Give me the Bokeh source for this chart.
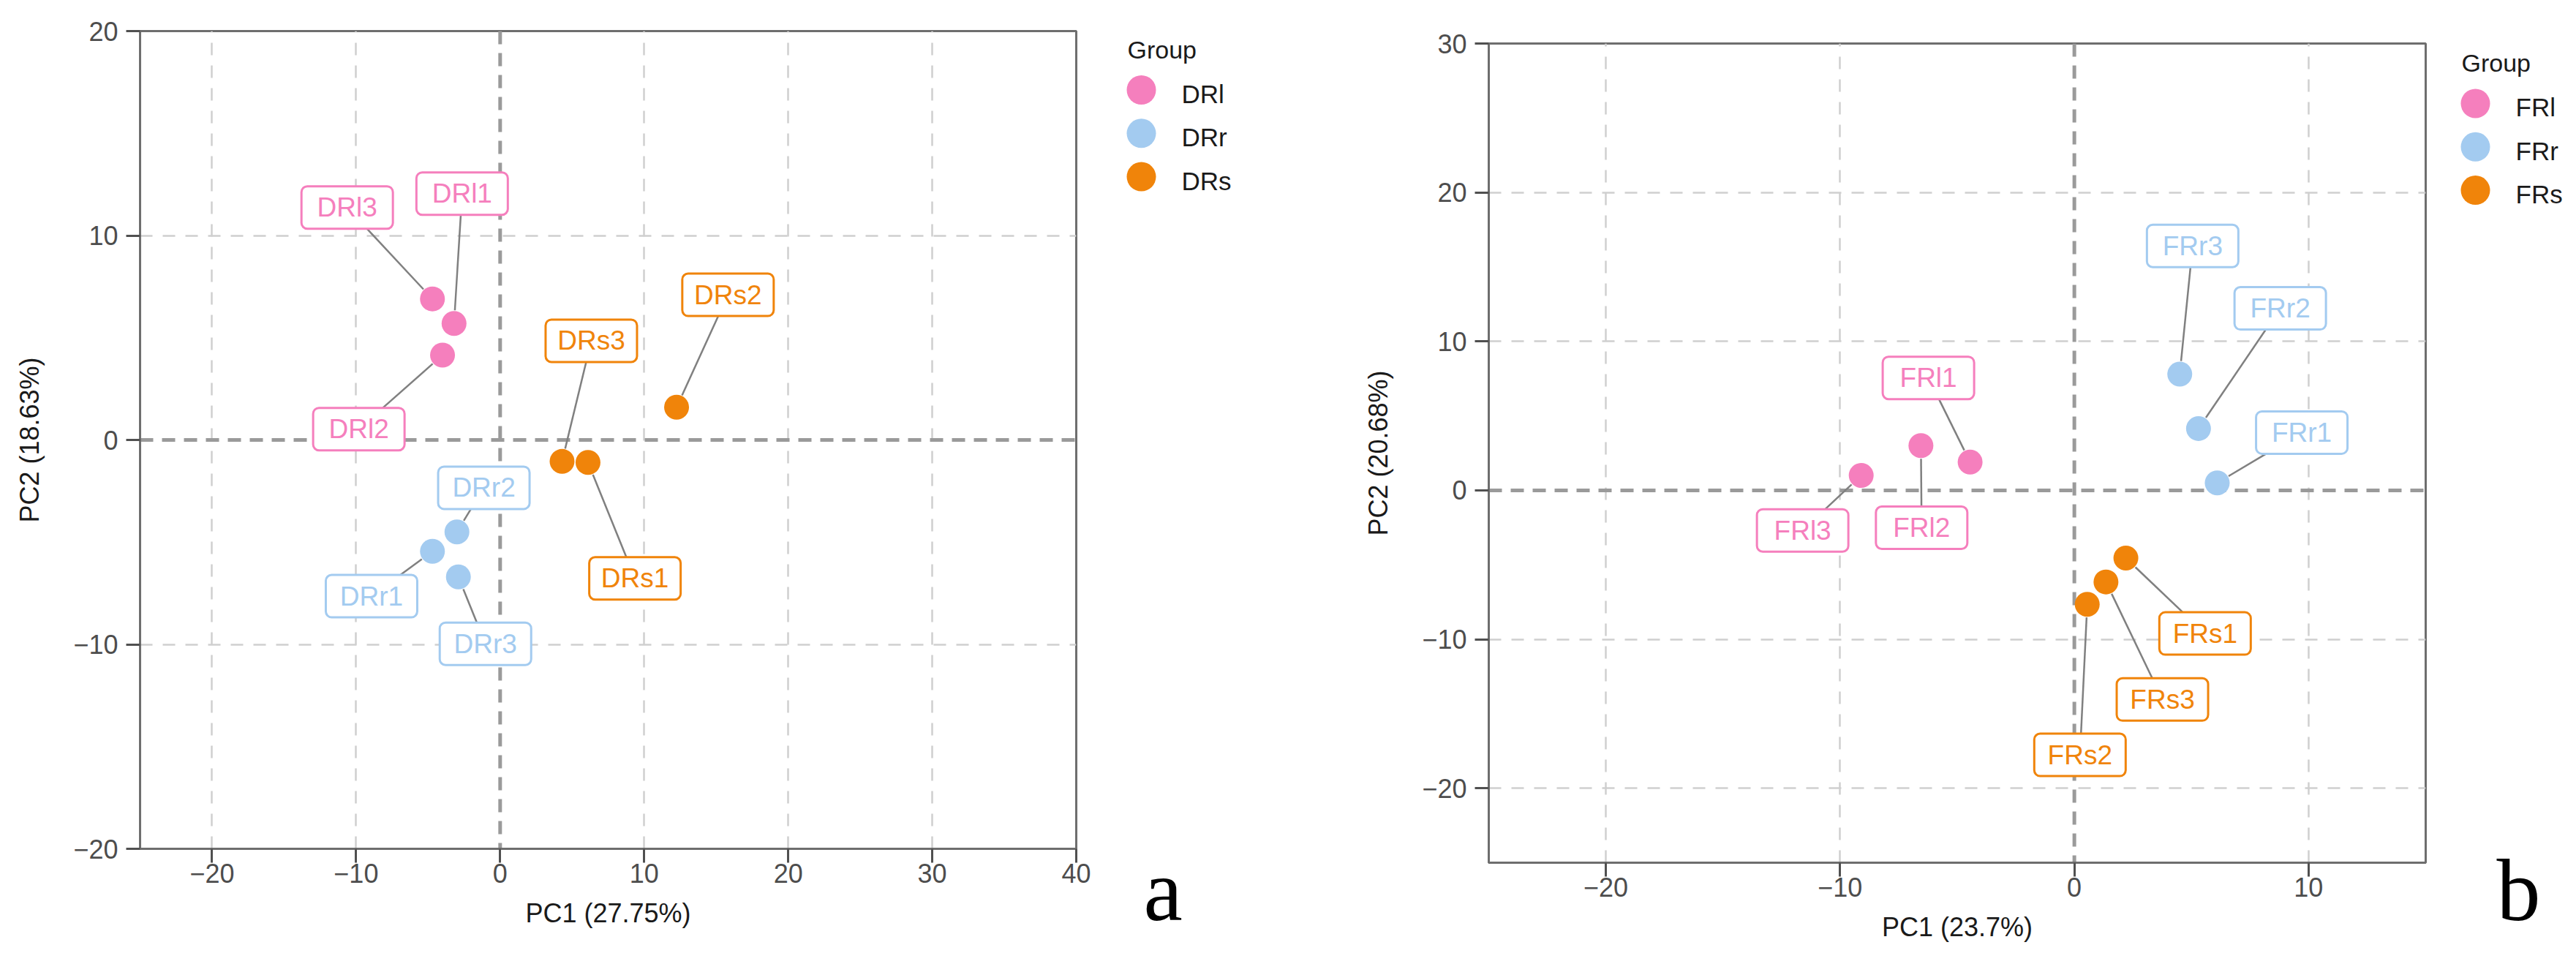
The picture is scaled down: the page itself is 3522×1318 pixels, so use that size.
from bokeh.plotting import figure
from bokeh.layouts import row
from bokeh.models import Range1d, FixedTicker, Span
from bokeh.core.properties import value
from bokeh.embed import file_html
from bokeh.resources import INLINE

# ---------------- data : panel a ----------------
a_groups = ["DRl", "DRr", "DRs"]
a_samples = {
    "DRl": ["DRl1", "DRl2", "DRl3"],
    "DRr": ["DRr1", "DRr2", "DRr3"],
    "DRs": ["DRs1", "DRs2", "DRs3"],
}
a_pc1 = {"DRl": [-3.2, -4.0, -4.7], "DRr": [-4.7, -3.0, -2.9], "DRs": [6.1, 12.25, 4.3]}
a_pc2 = {"DRl": [5.7, 4.15, 6.9], "DRr": [-5.45, -4.5, -6.7], "DRs": [-1.1, 1.6, -1.05]}
# repelled label centres
a_lab_x = {"DRl": [-2.64, -9.81, -10.62], "DRr": [-8.93, -1.13, -1.02], "DRs": [9.36, 15.82, 6.33]}
a_lab_y = {"DRl": [12.05, 0.53, 11.37], "DRr": [-7.64, -2.34, -9.97], "DRs": [-6.77, 7.1, 4.85]}
a_xticks = [-20, -10, 0, 10, 20, 30, 40]
a_yticks = [-20, -10, 0, 10, 20]
a_xrange = (-25, 40)
a_yrange = (-20, 20)
a_xlabel = "PC1 (27.75%)"
a_ylabel = "PC2 (18.63%)"

# ---------------- data : panel b ----------------
b_groups = ["FRl", "FRr", "FRs"]
b_samples = {
    "FRl": ["FRl1", "FRl2", "FRl3"],
    "FRr": ["FRr1", "FRr2", "FRr3"],
    "FRs": ["FRs1", "FRs2", "FRs3"],
}
b_pc1 = {"FRl": [-4.45, -6.55, -9.1], "FRr": [6.1, 5.3, 4.5], "FRs": [2.2, 0.55, 1.35]}
b_pc2 = {"FRl": [1.9, 3.0, 1.0], "FRr": [0.5, 4.15, 7.8], "FRs": [-4.55, -7.65, -6.15]}
b_lab_x = {"FRl": [-6.23, -6.52, -11.6], "FRr": [9.71, 8.79, 5.05], "FRs": [5.58, 0.24, 3.76]}
b_lab_y = {"FRl": [7.55, -2.51, -2.69], "FRr": [3.88, 12.22, 16.41], "FRs": [-9.61, -17.76, -14.04]}
b_xticks = [-20, -10, 0, 10]
b_yticks = [-20, -10, 0, 10, 20, 30]
b_xrange = (-25, 15)
b_yrange = (-25, 30)
b_xlabel = "PC1 (23.7%)"
b_ylabel = "PC2 (20.68%)"

group_colors = ["#F57FBD", "#A3CBF0", "#F0840A"]
legend_title = "Group"

FONT = "Liberation Sans"
PT = 34          # point diameter (px)
BOX_W, BOX_H = 125, 58
H = 1310


def fmt(t):
    return ("\u2212" + str(abs(t))) if t < 0 else str(t)


def make_panel(groups, samples, pc1, pc2, lab_x, lab_y, xr, yr, xticks, yticks,
               xlabel, ylabel, geom):
    W, bl, br, bt, bb = geom
    fw, fh = W - bl - br, H - bt - bb
    p = figure(width=W, height=H, x_range=Range1d(*xr), y_range=Range1d(*yr),
               output_backend="svg", toolbar_location=None,
               min_border_left=bl, min_border_right=br,
               min_border_top=bt, min_border_bottom=bb)
    p.frame_align = False
    p.background_fill_color = "white"
    p.border_fill_color = "white"
    p.outline_line_color = "#6e6e6e"
    p.outline_line_width = 3

    p.xaxis.ticker = FixedTicker(ticks=xticks)
    p.yaxis.ticker = FixedTicker(ticks=yticks)
    p.xaxis.major_label_overrides = {t: fmt(t) for t in xticks}
    p.yaxis.major_label_overrides = {t: fmt(t) for t in yticks}
    p.xaxis.axis_label = xlabel
    p.yaxis.axis_label = ylabel
    for ax in (p.xaxis[0], p.yaxis[0]):
        ax.axis_line_color = "#6e6e6e"
        ax.axis_line_width = 3
        ax.major_tick_line_color = "#505050"
        ax.major_tick_line_width = 3
        ax.major_tick_in = 0
        ax.major_tick_out = 19
        ax.minor_tick_line_color = None
        ax.major_label_text_font = FONT
        ax.major_label_text_font_size = "36px"
        ax.major_label_text_color = "#4d4d4d"
        ax.axis_label_text_font = FONT
        ax.axis_label_text_font_size = "36px"
        ax.axis_label_text_color = "#1a1a1a"
        ax.axis_label_text_font_style = "normal"
    p.xaxis.major_label_standoff = 1
    p.yaxis.major_label_standoff = 11
    p.xaxis.axis_label_standoff = 18
    p.yaxis.axis_label_standoff = 36

    p.xgrid.ticker = FixedTicker(ticks=[t for t in xticks if xr[0] < t < xr[1] and t != 0])
    p.ygrid.ticker = FixedTicker(ticks=[t for t in yticks if yr[0] < t < yr[1] and t != 0])
    for g in (p.xgrid[0], p.ygrid[0]):
        g.grid_line_color = "#cfcfcf"
        g.grid_line_width = 2.5
        g.grid_line_dash = "17 14"
    for dim in ("height", "width"):
        p.add_layout(Span(location=0, dimension=dim, line_color="#9a9a9a",
                          line_width=5, line_dash="18 12", level="underlay"))

    kx = fw / (xr[1] - xr[0])
    ky = fh / (yr[1] - yr[0])

    # leader segments from the label box edge to the point edge
    sx0, sy0, sx1, sy1 = [], [], [], []
    for g in groups:
        for px, py, lx, ly in zip(pc1[g], pc2[g], lab_x[g], lab_y[g]):
            dx, dy = (px - lx) * kx, (py - ly) * ky
            d = (dx * dx + dy * dy) ** 0.5
            if d == 0:
                continue
            tb = min((BOX_W / 2) / abs(dx) if dx else 1e9, (BOX_H / 2) / abs(dy) if dy else 1e9)
            te = 1 - (PT / 2 + 1) / d
            if te <= tb:
                continue
            sx0.append(lx + (px - lx) * tb)
            sy0.append(ly + (py - ly) * tb)
            sx1.append(lx + (px - lx) * te)
            sy1.append(ly + (py - ly) * te)
    p.segment(x0=sx0, y0=sy0, x1=sx1, y1=sy1, line_color="#808080", line_width=2.5)

    for g, c in zip(groups, group_colors):
        p.scatter(x=pc1[g], y=pc2[g], size=PT, marker="circle", fill_color=c, line_color=None)

    for g, c in zip(groups, group_colors):
        p.rect(x=lab_x[g], y=lab_y[g], width=BOX_W, height=BOX_H,
               width_units="screen", height_units="screen",
               fill_color="white", line_color=c, line_width=3, border_radius=8)
        p.text(x=lab_x[g], y=lab_y[g], text=samples[g], text_color=c,
               text_font=value(FONT), text_font_size="37px",
               text_align="center", text_baseline="middle")
    return p


def make_side(groups, width, title_x, title_base, letter, letter_x):
    """Legend column + panel letter, drawn in a pixel-scaled side figure."""
    s = figure(width=width, height=H, x_range=Range1d(0, width), y_range=Range1d(H, 0),
               output_backend="svg", toolbar_location=None,
               x_axis_location=None, y_axis_location=None,
               min_border_left=0, min_border_right=0, min_border_top=0, min_border_bottom=0)
    s.frame_align = False
    s.xgrid.visible = False
    s.ygrid.visible = False
    s.outline_line_color = None
    s.background_fill_color = "white"
    s.border_fill_color = "white"
    s.text(x=[title_x], y=[title_base + 2 - 0.3465 * 34], text=[legend_title], text_color="#1a1a1a",
           text_font=value(FONT), text_font_size="34px", text_baseline="middle")
    n = len(groups)
    cy = [title_base + 45.5 + 59.3 * i for i in range(n)]
    cx = [title_x + 19] * n
    s.scatter(x=cx, y=cy, size=40, marker="circle", fill_color=group_colors[:n], line_color=None)
    s.text(x=[title_x + 74] * n, y=[v + 5.4 for v in cy], text=groups, text_color="#1a1a1a",
           text_font=value(FONT), text_font_size="35px", text_baseline="middle")
    s.text(x=[letter_x], y=[1257 - 0.3375 * 120], text=[letter], text_color="black",
           text_font=value("Liberation Serif"), text_font_size="120px",
           text_baseline="middle")
    return s


# page starts at (0, 0): Bokeh's page template has no body margin
p1 = make_panel(a_groups, a_samples, a_pc1, a_pc2, a_lab_x, a_lab_y, a_xrange, a_yrange,
                a_xticks, a_yticks, a_xlabel, a_ylabel, (1500, 191, 29, 42, 150))
s1 = make_side(a_groups, 288, 41, 77, "a", 63)
p2 = make_panel(b_groups, b_samples, b_pc1, b_pc2, b_lab_x, b_lab_y, b_xrange, b_yrange,
                b_xticks, b_yticks, b_xlabel, b_ylabel, (1542, 247, 14, 59, 131))
s2 = make_side(b_groups, 184, 35, 95.5, "b", 83)

layout = row(p1, s1, p2, s2)
open("out.html", "w").write(file_html(layout, INLINE))
